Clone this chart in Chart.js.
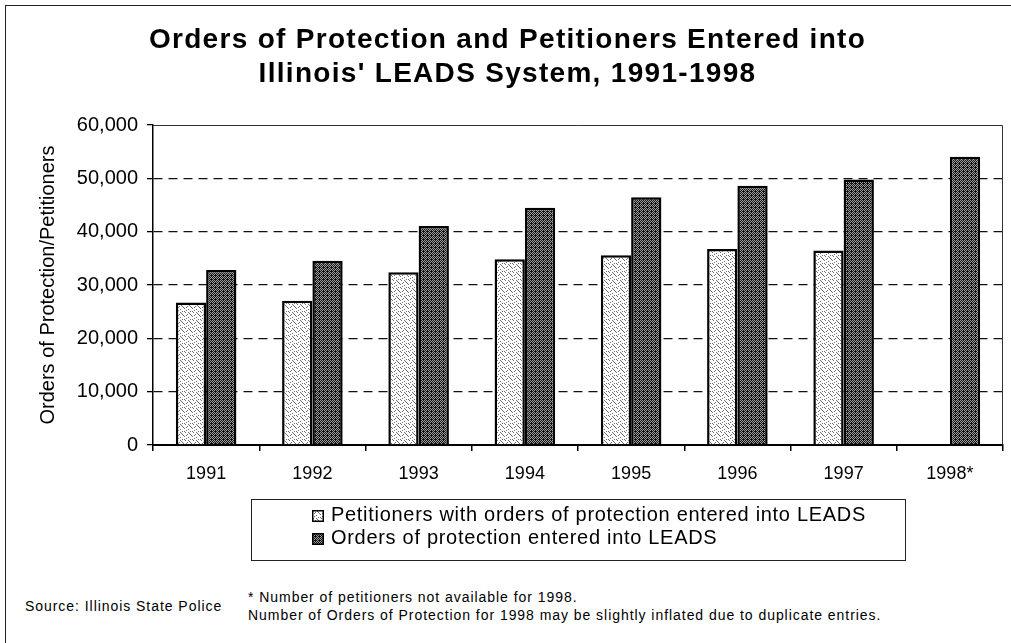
<!DOCTYPE html>
<html>
<head>
<meta charset="utf-8">
<script src="https://cdn.jsdelivr.net/npm/chart.js@4.4.1/dist/chart.umd.min.js"></script>
<style>
  body { margin: 0; background: #fff; }
  #wrap { position: relative; width: 1011px; height: 643px; overflow: hidden;
          font-family: 'Liberation Sans', Arial, sans-serif; color: #000; }
  #frame { position: absolute; left: 5px; top: 5px; width: 1100px; height: 700px;
           border-left: 1.5px solid #222; border-top: 1.5px solid #222; }
  #chart { position: absolute; left: 0; top: 0; }
  #title { position: absolute; left: 0; top: 22px; width: 1015px; text-align: center;
           font-size: 28px; font-weight: bold; line-height: 34px; letter-spacing: 1.3px; }
  #legend { position: absolute; left: 251px; top: 499px; width: 655px; height: 62px;
            border: 1px solid #222; box-sizing: border-box; font-size: 20px; letter-spacing: 0.7px; }
  .row { position: absolute; left: 60px; height: 22px; line-height: 22px; white-space: nowrap; }
  .row canvas { vertical-align: -1px; margin-right: 7px; }
  .note { position: absolute; font-size: 14px; letter-spacing: 0.95px; white-space: nowrap; }
</style>
</head>
<body>
<div id="wrap">
  <div id="frame"></div>
  <canvas id="chart" width="1011" height="500"></canvas>
  <div id="title"></div>
  <div id="legend"></div>
  <div class="note" style="left:25px; top:598px;">Source: Illinois State Police</div>
  <div class="note" style="left:248px; top:589px;">* Number of petitioners not available for 1998.</div>
  <div class="note" style="left:248px; top:607px;">Number of Orders of Protection for 1998 may be slightly inflated due to duplicate entries.</div>
</div>
<script>
  // values
  const years = ['1991', '1992', '1993', '1994', '1995', '1996', '1997', '1998*'];
  const petitioners = [26700, 27050, 32400, 34850, 35600, 36750, 36450, null];
  const orders = [32800, 34550, 41050, 44500, 46450, 48600, 49800, 54050];
  const yTicks = [0, 10000, 20000, 30000, 40000, 50000, 60000];

  const titleLines = ['Orders of Protection and Petitioners Entered into', "Illinois' LEADS System, 1991-1998"];
  const seriesNames = ['Petitioners with orders of protection entered into LEADS', 'Orders of protection entered into LEADS'];

  document.getElementById('title').innerHTML = titleLines.join('<br>');

  // halftone-ish fills like the printed original
  function makePattern(size, bg, dot, spots) {
    const c = document.createElement('canvas');
    c.width = size; c.height = size;
    const g = c.getContext('2d');
    g.fillStyle = bg;
    g.fillRect(0, 0, size, size);
    g.fillStyle = dot;
    spots.forEach(p => g.fillRect(p[0], p[1], 1, 1));
    return g.createPattern(c, 'repeat');
  }
  const lightFill = makePattern(8, '#ffffff', '#6e6e6e', [
    [1, 0], [5, 1], [3, 2], [7, 3], [0, 4], [4, 5], [2, 6], [6, 7], [6, 2], [2, 3], [4, 0], [0, 7]
  ]);
  const darkFill = makePattern(4, '#111111', '#a0a0a0', [
    [0, 0], [2, 0], [1, 1], [3, 1], [0, 2], [2, 2], [1, 3]
  ]);

  const plotBorder = {
    id: 'plotBorder',
    beforeDatasetsDraw(chart) {
      const { ctx, chartArea: a } = chart;
      ctx.save();
      ctx.strokeStyle = '#333';
      ctx.lineWidth = 1;
      ctx.beginPath();
      ctx.moveTo(a.left, a.top + 0.5);
      ctx.lineTo(a.right - 0.5, a.top + 0.5);
      ctx.lineTo(a.right - 0.5, a.bottom);
      ctx.stroke();
      ctx.restore();
    }
  };

  const data = {
    labels: years,
    datasets: [{
      label: seriesNames[0],
      data: petitioners,
      backgroundColor: lightFill,
      borderColor: '#000',
      borderWidth: 2.5
    }, {
      label: seriesNames[1],
      data: orders,
      backgroundColor: darkFill,
      borderColor: '#000',
      borderWidth: 2.5
    }]
  };

  const config = {
    type: 'bar',
    data: data,
    plugins: [plotBorder],
    options: {
      responsive: false,
      animation: false,
      datasets: { bar: { categoryPercentage: 0.57, barPercentage: 1 } },
      layout: { padding: { left: 0, right: 8, top: 125, bottom: 0 } },
      plugins: {
        legend: { display: false },
        tooltip: { enabled: false },
        title: { display: false }
      },
      scales: {
        x: {
          grid: { display: true, drawOnChartArea: false, drawTicks: true, tickLength: 6, color: '#000', lineWidth: 1.5 },
          border: { color: '#000', width: 2 },
          ticks: { color: '#000', padding: 12, font: { family: 'Liberation Sans', size: 18 } },
          afterFit(scale) { scale.height = 55; }
        },
        y: {
          min: 0,
          max: 60000,
          afterBuildTicks(scale) { scale.ticks = yTicks.map(v => ({ value: v })); },
          grid: {
            color: ctx => (ctx.tick && (ctx.tick.value === 0 || ctx.tick.value === 60000)) ? 'rgba(0,0,0,0)' : '#111',
            lineWidth: 1.3,
            tickColor: '#000',
            tickLength: 6,
            tickBorderDash: []
          },
          border: { color: '#000', width: 1.5, dash: [9, 6] },
          ticks: {
            color: '#000',
            padding: 9,
            font: { family: 'Liberation Sans', size: 20 },
            callback: v => v.toLocaleString('en-US')
          },
          title: {
            display: true,
            text: 'Orders of Protection/Petitioners',
            color: '#000',
            font: { family: 'Liberation Sans', size: 20 },
            padding: { top: 36, bottom: 0 }
          },
          afterFit(scale) { scale.width = 153; }
        }
      }
    }
  };

  const myChart = new Chart(document.getElementById('chart'), config);

  // legend box below the plot
  const legendBox = document.getElementById('legend');
  [lightFill, darkFill].forEach((fill, i) => {
    const row = document.createElement('div');
    row.className = 'row';
    row.style.top = (i === 0 ? 3 : 26) + 'px';
    const sw = document.createElement('canvas');
    sw.width = 12; sw.height = 12;
    const g = sw.getContext('2d');
    g.fillStyle = fill;
    g.fillRect(0, 0, 12, 12);
    g.strokeStyle = '#000';
    g.lineWidth = 1.5;
    g.strokeRect(0.75, 0.75, 10.5, 10.5);
    row.appendChild(sw);
    row.appendChild(document.createTextNode(seriesNames[i]));
    legendBox.appendChild(row);
  });
</script>
</body>
</html>
